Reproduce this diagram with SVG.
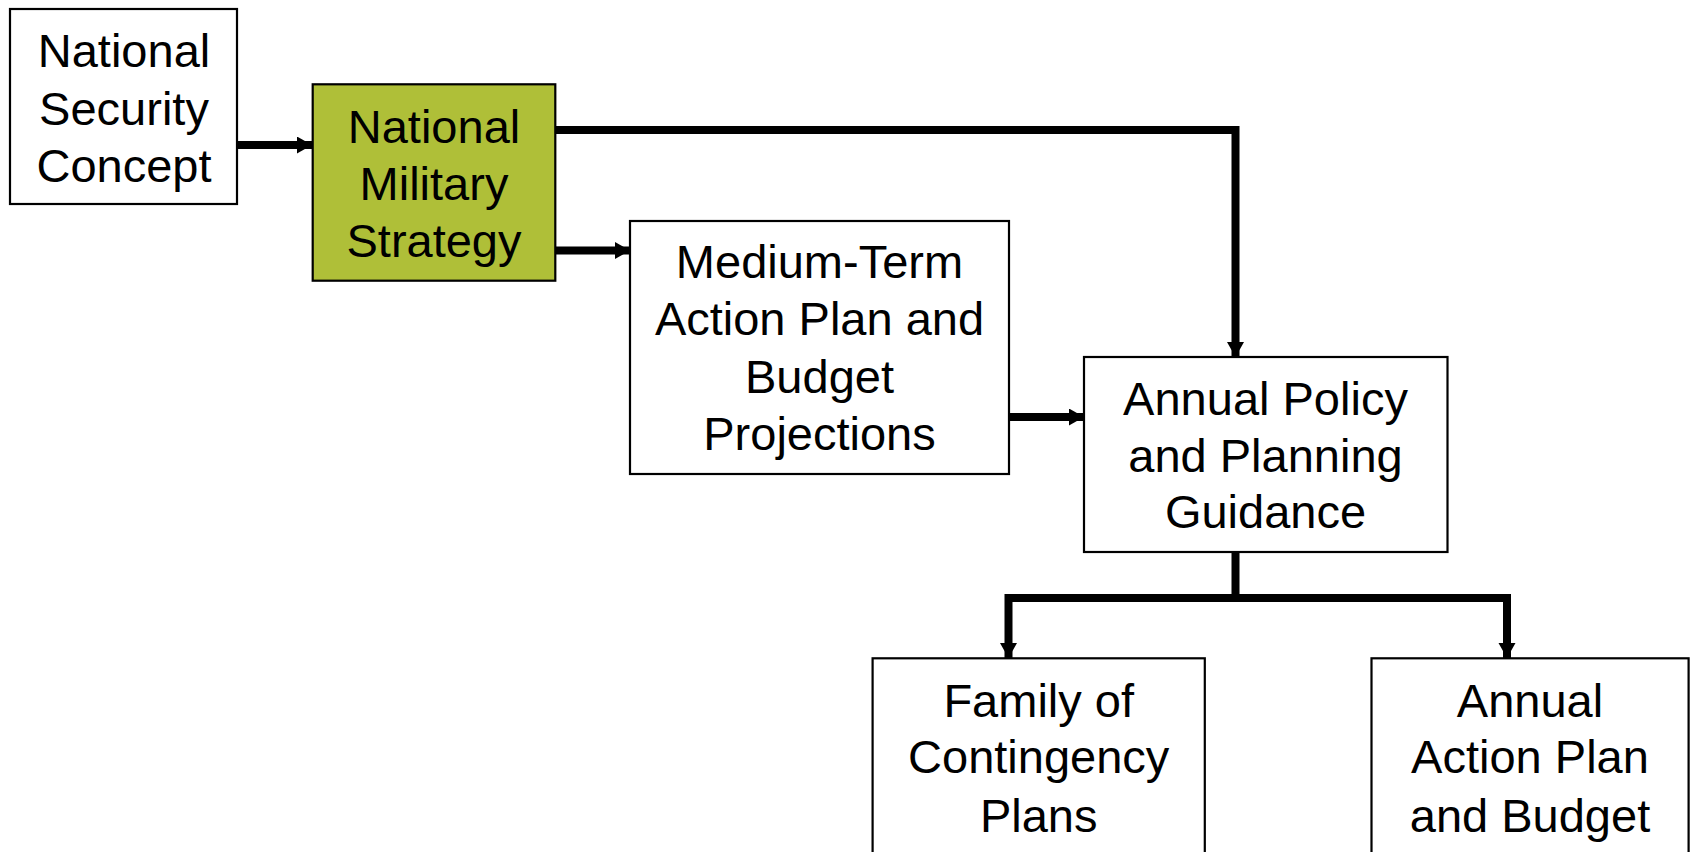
<svg xmlns="http://www.w3.org/2000/svg" width="1693" height="852" viewBox="0 0 1693 852">
<style>
.box{fill:#fff;stroke:#000;stroke-width:2.2}
.green{fill:#AFBF38;stroke:#000;stroke-width:2.2}
.t{font-family:"Liberation Sans",Arial,sans-serif;font-size:47px;fill:#000;text-anchor:middle}
.c{fill:none;stroke:#000;stroke-width:8;stroke-linejoin:miter;stroke-linecap:butt}
</style>
<defs>
<marker id="ah" markerUnits="userSpaceOnUse" markerWidth="18" markerHeight="18" refX="15" refY="8.5" orient="auto" viewBox="0 0 18 18">
<path d="M0,0 L15,8.5 L0,17 z" fill="#000"/>
</marker>
</defs>
<rect width="1693" height="852" fill="#fff"/>
<g id="connectors">
<path class="c" d="M234,145 H312" marker-end="url(#ah)"/>
<path class="c" d="M552,130 H1235.5 V357" marker-end="url(#ah)"/>
<path class="c" d="M552,250.5 H630" marker-end="url(#ah)"/>
<path class="c" d="M1006,417 H1084" marker-end="url(#ah)"/>
<path class="c" d="M1235.5,552 V598 H1008.5 V658" marker-end="url(#ah)"/>
<path class="c" d="M1235.5,598 H1507 V658" marker-end="url(#ah)"/>
</g>
<g id="national-security-concept">
<rect class="box" x="10" y="9" width="227" height="195"/>
<text class="t" x="124" y="66.7">National</text>
<text class="t" x="124" y="124.5">Security</text>
<text class="t" x="124" y="181.7">Concept</text>
</g>
<g id="national-military-strategy">
<rect class="green" x="312.7" y="84.3" width="242.6" height="196.4"/>
<text class="t" x="434" y="143.3">National</text>
<text class="t" x="434" y="200">Military</text>
<text class="t" x="434" y="256.7">Strategy</text>
</g>
<g id="medium-term-plan">
<rect class="box" x="630" y="221" width="379" height="253"/>
<text class="t" x="819.5" y="278.3">Medium-Term</text>
<text class="t" x="819.5" y="335">Action Plan and</text>
<text class="t" x="819.5" y="392.7">Budget</text>
<text class="t" x="819.5" y="450">Projections</text>
</g>
<g id="annual-policy-guidance">
<rect class="box" x="1084" y="357" width="363.5" height="195"/>
<text class="t" x="1265.5" y="415">Annual Policy</text>
<text class="t" x="1265.5" y="471.7">and Planning</text>
<text class="t" x="1265.5" y="528.3">Guidance</text>
</g>
<g id="family-contingency-plans">
<rect class="box" x="872.6" y="658.3" width="332.2" height="220"/>
<text class="t" x="1038.7" y="716.7">Family of</text>
<text class="t" x="1038.7" y="773.3">Contingency</text>
<text class="t" x="1038.7" y="831.7">Plans</text>
</g>
<g id="annual-action-plan-budget">
<rect class="box" x="1371.5" y="658.3" width="317.1" height="220"/>
<text class="t" x="1530" y="716.7">Annual</text>
<text class="t" x="1530" y="773.3">Action Plan</text>
<text class="t" x="1530" y="831.7">and Budget</text>
</g>
</svg>
